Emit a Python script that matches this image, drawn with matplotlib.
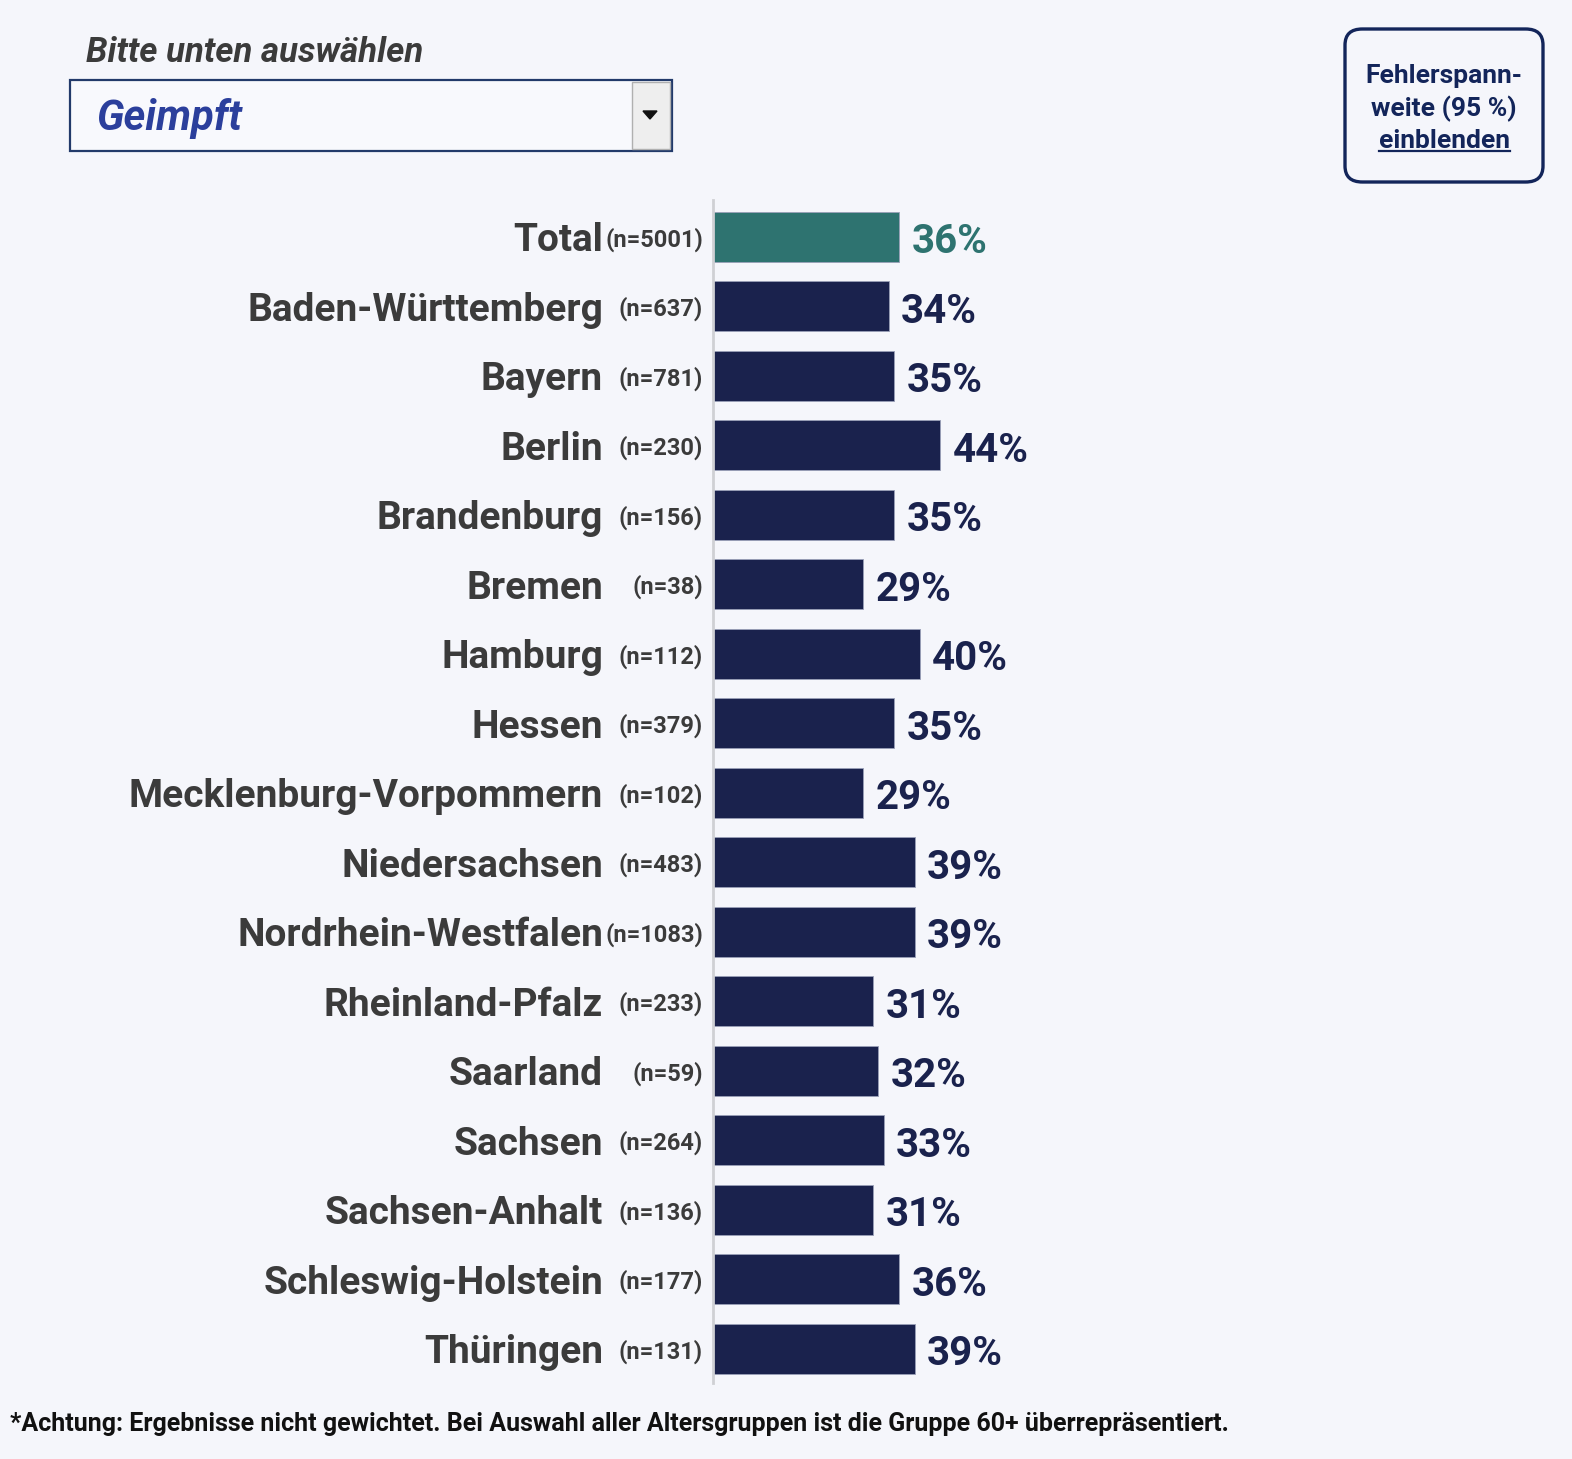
import matplotlib
matplotlib.use('Agg')
import matplotlib.pyplot as plt
from matplotlib.patches import Rectangle, FancyBboxPatch, Polygon
from matplotlib.lines import Line2D
import matplotlib.transforms as mtransforms

# data
regions = ['Total', 'Baden-Württemberg', 'Bayern', 'Berlin', 'Brandenburg', 'Bremen',
           'Hamburg', 'Hessen', 'Mecklenburg-Vorpommern', 'Niedersachsen',
           'Nordrhein-Westfalen', 'Rheinland-Pfalz', 'Saarland', 'Sachsen',
           'Sachsen-Anhalt', 'Schleswig-Holstein', 'Thüringen']
n_sizes = [5001, 637, 781, 230, 156, 38, 112, 379, 102, 483, 1083, 233, 59, 264, 136, 177, 131]
shares = [36, 34, 35, 44, 35, 29, 40, 35, 29, 39, 39, 31, 32, 33, 31, 36, 39]

selection = 'Geimpft'
prompt = 'Bitte unten auswählen'
button_lines = ['Fehlerspann-', 'weite (95 %)', 'einblenden']
footnote = ('*Achtung: Ergebnisse nicht gewichtet. Bei Auswahl aller Altersgruppen '
            'ist die Gruppe 60+ überrepräsentiert.')

BG = '#f5f6fb'
NAVY = '#1a224d'
TEAL = '#2e7370'
GREY_TXT = '#3b3b3b'

W, H = 1572, 1459
plt.rcParams['font.family'] = ['Roboto', 'DejaVu Sans']

fig = plt.figure(figsize=(W / 100, H / 100), dpi=100, facecolor=BG)

def fx(x):
    return x / W

def fy(y):
    return 1 - y / H

# bar axes: 0 % at x=713 px, 5.167 px per %, rows every 69.5 px starting at y=237
ax = fig.add_axes([fx(713), fy(1383), 516.7 / W, 1183 / H])
ax.set_facecolor(BG)
ypos = list(range(len(regions)))
colors = [TEAL] + [NAVY] * (len(regions) - 1)
ax.barh(ypos, shares, height=0.72, color=colors, edgecolor='#9aa0b8', linewidth=0.6)
ax.set_xlim(0, 100)
ax.set_ylim(16.49, -0.53)
for s in ['top', 'right', 'bottom']:
    ax.spines[s].set_visible(False)
ax.spines['left'].set_color('#cfd0d4')
ax.spines['left'].set_linewidth(2)
ax.set_xticks([])
ax.set_yticks([])

lab_tr = mtransforms.blended_transform_factory(fig.transFigure, ax.transData)
for i, (r, n, v) in enumerate(zip(regions, n_sizes, shares)):
    ax.text(fx(603), i, r, transform=lab_tr, ha='right', va='center_baseline',
            fontsize=28, fontweight='bold', color=GREY_TXT)
    ax.text(fx(703), i, '(n=%d)' % n, transform=lab_tr, ha='right', va='center_baseline',
            fontsize=17, fontweight='bold', color=GREY_TXT)
    ax.annotate('%d%%' % v, (v, i), xytext=(9, -1), textcoords='offset points',
                ha='left', va='center_baseline', fontsize=29, fontweight='bold',
                color=TEAL if i == 0 else NAVY)

# dropdown
fig.text(fx(86), fy(49), prompt, fontsize=25, style='italic', fontweight='semibold',
         color=GREY_TXT, ha='left', va='center_baseline')
fig.patches.append(Rectangle((fx(70), fy(151)), fx(602), 71 / H, transform=fig.transFigure,
                             facecolor='#f8f9fd', edgecolor='#223a6a', linewidth=1.6))
fig.patches.append(Rectangle((fx(632), fy(149)), fx(38), 67 / H, transform=fig.transFigure,
                             facecolor='#eeeeee', edgecolor='#b0b0b0', linewidth=1))
fig.patches.append(Polygon([(fx(643), fy(111)), (fx(657), fy(111)), (fx(650), fy(119))],
                           closed=True, transform=fig.transFigure, color='#111111'))
fig.text(fx(96), fy(114), selection, fontsize=30, style='italic', fontweight='bold',
         color='#2b3f9c', ha='left', va='center_baseline')

# error margin button
fig.patches.append(FancyBboxPatch((fx(1345), fy(182)), fx(198), 153 / H,
                                  boxstyle='round,pad=0,rounding_size=0.011',
                                  transform=fig.transFigure, facecolor=BG,
                                  edgecolor='#13255a', linewidth=2.4))
btn_y = [74, 106, 138]
btn_texts = []
for line, y in zip(button_lines, btn_y):
    btn_texts.append(fig.text(fx(1444), fy(y), line, fontsize=19, fontweight='bold',
                              color='#13255a', ha='center', va='center_baseline'))

fig.text(fx(10), fy(1422), footnote, fontsize=18, fontweight='bold', color='#111111',
         ha='left', va='center_baseline')

# underline for "einblenden"
fig.canvas.draw()
bb = btn_texts[2].get_window_extent().transformed(fig.transFigure.inverted())
fig.lines.append(Line2D([bb.x0, bb.x1], [fy(151), fy(151)], transform=fig.transFigure,
                        color='#13255a', linewidth=1.6))

fig.savefig('out.png', dpi=100, facecolor=BG)
